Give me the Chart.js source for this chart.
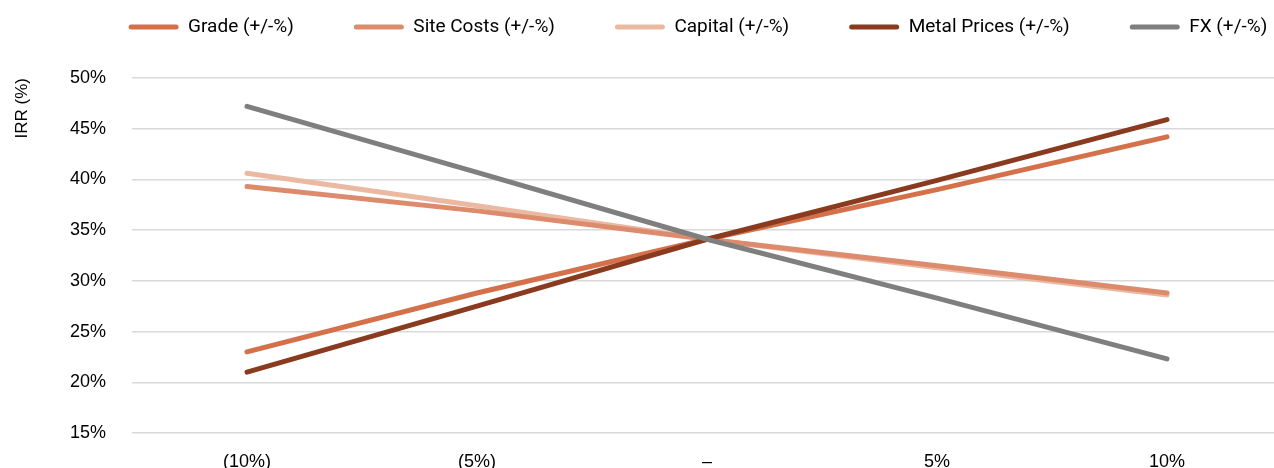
<!DOCTYPE html>
<html>
<head>
<meta charset="utf-8">
<script src="https://cdn.jsdelivr.net/npm/chart.js@4/dist/chart.umd.min.js"></script>
<style>
  html, body { margin: 0; padding: 0; background: #fff; overflow: hidden; }
  #wrap { width: 1290px; height: 492px; }
</style>
</head>
<body>
<div id="wrap"><canvas id="c" width="1290" height="492"></canvas></div>
<script>
// Sensitivity of project IRR to +/- changes in key inputs
const categories = ['(10%)', '(5%)', '–', '5%', '10%'];
const grade       = [23.0, 28.8, 34.1, 39.0, 44.2];
const siteCosts   = [39.3, 36.9, 34.1, 31.5, 28.8];
const capital     = [40.6, 37.4, 34.1, 31.3, 28.6];
const metalPrices = [21.0, 27.5, 34.1, 39.9, 45.9];
const fx          = [47.2, 40.7, 34.1, 28.3, 22.3];
const yTicks = [15, 20, 25, 30, 35, 40, 45, 50];

const seriesNames = ['Grade (+/-%)', 'Site Costs (+/-%)', 'Capital (+/-%)', 'Metal Prices (+/-%)', 'FX (+/-%)'];
const seriesData = [grade, siteCosts, capital, metalPrices, fx];
const seriesColors = ['#D4714A', '#DC8B6D', '#EBB8A1', '#8A3A1E', '#7F7F7F'];

// draw order: lighter lines underneath
const drawOrder = [2, 1, 0, 3, 4];

const datasets = seriesNames.map((name, i) => ({
  label: name,
  data: seriesData[i],
  borderColor: seriesColors[i],
  backgroundColor: seriesColors[i],
  borderWidth: 5,
  borderCapStyle: 'round',
  borderJoinStyle: 'round',
  pointRadius: 0,
  pointHoverRadius: 0,
  tension: 0,
  fill: false,
  order: drawOrder.length - drawOrder.indexOf(i)
}));

// legend: fixed block height above the plot, row starting further in than the canvas edge
const legendLayout = {
  id: 'legendLayout',
  beforeUpdate(chart) {
    const lg = chart.legend;
    if (lg && !lg._fixedFit) {
      const fit = lg.fit;
      lg.fit = function () { fit.call(this); this.height = 120.5; };
      lg._fixedFit = true;
    }
  },
  afterLayout(chart) {
    if (chart.legend) {
      const w = chart.legend.right - chart.legend.left;
      chart.legend.left = 68.6;
      chart.legend.right = 68.6 + w;
    }
  }
};

new Chart(document.getElementById('c'), {
  type: 'line',
  data: { labels: categories, datasets },
  plugins: [legendLayout],
  options: {
    responsive: false,
    animation: false,
    layout: { padding: { left: 0, right: 8, top: -42.5, bottom: 0 } },
    plugins: {
      tooltip: { enabled: false },
      legend: {
        position: 'top',
        align: 'start',
        labels: {
          color: '#000',
          font: { family: 'Roboto', size: 19 },
          boxWidth: 50,
          boxHeight: 5,
          useBorderRadius: true,
          borderRadius: 2.5,
          padding: 60,
          generateLabels(chart) {
            return chart.data.datasets.map((ds, i) => ({
              text: ds.label,
              fillStyle: ds.borderColor,
              strokeStyle: ds.borderColor,
              lineWidth: 0,
              hidden: false,
              datasetIndex: i,
              borderRadius: 2.5
            }));
          }
        }
      }
    },
    scales: {
      x: {
        offset: true,
        grid: { display: false },
        border: { display: false },
        ticks: { color: '#000', font: { family: 'Liberation Sans', size: 18 }, padding: 10, maxRotation: 0 },
        afterFit(axis) { axis.height = 59; }
      },
      y: {
        min: 15,
        max: 50,
        afterBuildTicks(axis) { axis.ticks = yTicks.map(v => ({ value: v })); },
        grid: { color: '#D9D9D9', lineWidth: 1.5, drawTicks: false },
        border: { display: false },
        ticks: {
          color: '#000',
          font: { family: 'Liberation Sans', size: 18 },
          padding: 26,
          callback: v => v + '%'
        },
        title: {
          display: true,
          text: 'IRR (%)',
          align: 'end',
          color: '#000',
          font: { family: 'Liberation Sans', size: 17 },
          padding: { top: 12, bottom: 0 }
        },
        afterFit(axis) { axis.width = 132; }
      }
    }
  }
});
</script>
</body>
</html>
